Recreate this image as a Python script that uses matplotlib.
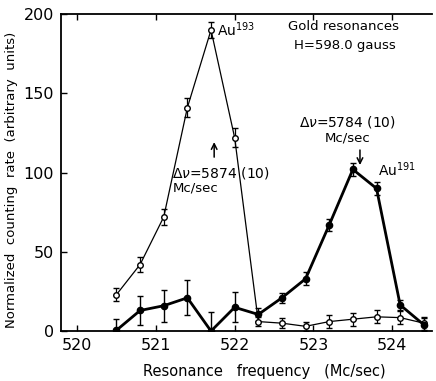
import matplotlib
matplotlib.use('Agg')
import matplotlib.pyplot as plt

freq = [520.5, 520.8, 521.1, 521.4, 521.7, 522.0, 522.3,
        522.6, 522.9, 523.2, 523.5, 523.8, 524.1, 524.4]
au193 = [23, 42, 72, 141, 190, 122, 6, 5, 3, 6, 7.5, 9, 8.5, 5]
au193_err = [4, 5, 5, 6, 5, 6, 3, 3, 3, 4, 4, 4, 4, 4]
au191 = [0.5, 13, 16, 21, 0, 15, 10.5, 21, 33, 67, 102, 90, 16.5, 4]
au191_err = [7, 9, 10, 11, 12, 9.5, 4, 3, 4, 4, 4, 4, 3, 4]

plt.rcParams['font.family'] = ['DejaVu Sans']

fig = plt.figure(figsize=(4.36, 3.81), dpi=100)
ax = fig.add_axes([0.140, 0.131, 0.851, 0.832])

# Au193, open circles, thin line
ax.errorbar(freq, au193, yerr=au193_err, color='black', lw=0.9,
            marker='o', markersize=4, markerfacecolor='white',
            markeredgewidth=1.0, capsize=2.5, elinewidth=0.9, capthick=0.9)
# Au191, filled circles, thick line
ax.errorbar(freq, au191, yerr=au191_err, color='black', lw=2.0,
            marker='o', markersize=4.5, markerfacecolor='black',
            capsize=2.5, elinewidth=1.0, capthick=1.0)

ax.set_xlim(519.797, 524.505)
ax.set_ylim(0, 200)
ax.set_xticks([520, 521, 522, 523, 524])
ax.set_yticks([0, 50, 100, 150, 200])
ax.tick_params(direction='in', length=4, width=1, labelsize=11.5, top=True,
               pad=5)
ax.spines['right'].set_visible(False)
for s in ['left', 'bottom', 'top']:
    ax.spines[s].set_linewidth(1.3)

ax.set_xlabel('Resonance   frequency   (Mc/sec)', fontsize=10.5)
ax.xaxis.set_label_coords(0.547, -0.105)
ax.set_ylabel('Normalized  counting  rate  (arbitrary  units)', fontsize=9.5)
ax.yaxis.set_label_coords(-0.115, 0.476)

ax.text(523.38, 192, 'Gold resonances', fontsize=9.5, ha='center', va='center')
ax.text(523.4, 180, 'H=598.0 gauss', fontsize=9.5, ha='center', va='center')
ax.text(521.77, 190, 'Au$^{193}$', fontsize=10, ha='left', va='center')
ax.text(523.43, 132, r'$\Delta\nu$=5784 (10)', fontsize=10, ha='center', va='center')
ax.text(523.43, 122, 'Mc/sec', fontsize=9.5, ha='center', va='center')
ax.annotate('', xy=(523.59, 103), xytext=(523.59, 116),
            arrowprops=dict(arrowstyle='->', color='black', lw=1.1))
ax.text(523.82, 102, 'Au$^{191}$', fontsize=10, ha='left', va='center')
ax.text(521.21, 100, r'$\Delta\nu$=5874 (10)', fontsize=10, ha='left', va='center')
ax.text(521.21, 90, 'Mc/sec', fontsize=9.5, ha='left', va='center')
ax.annotate('', xy=(521.74, 121), xytext=(521.74, 108),
            arrowprops=dict(arrowstyle='->', color='black', lw=1.1))

fig.savefig('out.png', dpi=100)
